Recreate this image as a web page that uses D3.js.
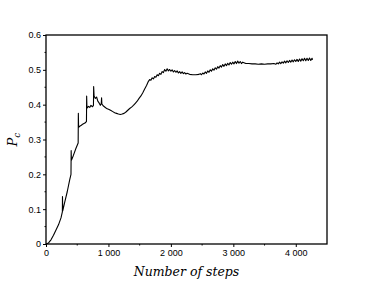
<!DOCTYPE html>
<html>
<head>
<meta charset="utf-8">
<script src="https://cdn.jsdelivr.net/npm/d3@7"></script>
<style>
  body { margin: 0; background: #fff; }
  svg { display: block; }
</style>
</head>
<body>
<svg id="chart"></svg>
<script>
// data
const steps = [0, 40, 80, 120, 160, 200, 240, 262, 264, 268, 300, 340, 380, 400, 403, 407, 440, 480, 515, 518, 522,
  540, 560, 580, 600, 630, 648, 651, 656, 680, 700, 720, 745, 760, 763, 770, 790, 810, 830, 850, 870, 885, 890, 895,
  920, 950, 980, 1010, 1040, 1070, 1100, 1130, 1160, 1190, 1220, 1250, 1280, 1310, 1340, 1370, 1400, 1430, 1460,
  1490, 1520, 1550, 1580, 1610,
  1640, 1660, 1680, 1700, 1720, 1740, 1760, 1780, 1800, 1820, 1840, 1860, 1880, 1900, 1920, 1940, 1960, 1980,
  2000, 2020, 2040, 2060, 2080, 2100, 2120, 2140, 2160, 2180, 2200, 2220, 2240, 2260, 2300, 2350, 2400, 2450,
  2470, 2490, 2510, 2530, 2550, 2570, 2590, 2610, 2630, 2650, 2670, 2690, 2710, 2730, 2750, 2770, 2790, 2810,
  2830, 2850, 2870, 2890, 2910, 2930, 2950, 2970, 2990, 3010, 3030, 3050, 3070, 3090, 3110, 3130, 3150, 3200,
  3250, 3300, 3350, 3400, 3450, 3500, 3550, 3600, 3650, 3680, 3700, 3720, 3740, 3760, 3780, 3800, 3820, 3840,
  3860, 3880, 3900, 3920, 3940, 3960, 3980, 4000, 4020, 4040, 4060, 4080, 4100, 4120, 4140, 4160, 4180, 4200,
  4220, 4240, 4260, 4270];
const pc = [0, 0.003, 0.012, 0.025, 0.04, 0.055, 0.075, 0.092, 0.136, 0.095, 0.12, 0.15, 0.185, 0.2, 0.268, 0.24,
  0.255, 0.275, 0.29, 0.375, 0.335, 0.338, 0.34, 0.343, 0.345, 0.348, 0.352, 0.425, 0.39, 0.395, 0.392, 0.398, 0.394,
  0.398, 0.452, 0.425, 0.418, 0.422, 0.41, 0.405, 0.398, 0.403, 0.42, 0.402, 0.396, 0.392, 0.388, 0.386, 0.383,
  0.38, 0.377, 0.375, 0.373, 0.372, 0.373, 0.375, 0.379, 0.384, 0.389, 0.393, 0.398, 0.404, 0.41, 0.418, 0.425,
  0.434, 0.445, 0.455,
  0.467, 0.472, 0.47, 0.477, 0.474, 0.481, 0.479, 0.486, 0.483, 0.49, 0.487, 0.495, 0.492, 0.501, 0.496, 0.503,
  0.497, 0.501, 0.496, 0.5, 0.494, 0.498, 0.493, 0.497, 0.491, 0.495, 0.49, 0.494, 0.489, 0.492, 0.488, 0.49,
  0.487, 0.486, 0.486, 0.487, 0.489, 0.486, 0.491, 0.488, 0.494, 0.49, 0.497, 0.493, 0.5, 0.496, 0.503, 0.499,
  0.506, 0.502, 0.509, 0.505, 0.512, 0.508, 0.515, 0.51, 0.517, 0.512, 0.519, 0.514, 0.521, 0.516, 0.522, 0.517,
  0.524, 0.518, 0.525, 0.519, 0.524, 0.518, 0.522, 0.518, 0.518, 0.517, 0.517, 0.516, 0.517, 0.516, 0.517, 0.517,
  0.518, 0.516, 0.52, 0.517, 0.522, 0.518, 0.523, 0.519, 0.525, 0.52, 0.526, 0.521, 0.527, 0.522, 0.528, 0.523,
  0.529, 0.524, 0.53, 0.524, 0.531, 0.525, 0.532, 0.526, 0.533, 0.526, 0.533, 0.527, 0.534, 0.527, 0.533, 0.529];
const xTicks = [0, 1000, 2000, 3000, 4000];
const xTickLabels = ["0", "1 000", "2 000", "3 000", "4 000"];
const yTicks = [0, 0.1, 0.2, 0.3, 0.4, 0.5, 0.6];
const yTickLabels = ["0", "0.1", "0.2", "0.3", "0.4", "0.5", "0.6"];

const width = 374, height = 282;
const margin = { top: 35, right: 47, bottom: 38, left: 46 };

const svg = d3.select("#chart").attr("width", width).attr("height", height);

const x = d3.scaleLinear().domain([0, 4500]).range([margin.left, width - margin.right]);
const y = d3.scaleLinear().domain([0, 0.6]).range([height - margin.bottom, margin.top]);

// frame
svg.append("rect")
  .attr("x", x(0)).attr("y", y(0.6))
  .attr("width", x(4500) - x(0)).attr("height", y(0) - y(0.6))
  .attr("fill", "none").attr("stroke", "#000").attr("stroke-width", 1.3);

// minor ticks
const xMinor = [500, 1500, 2500, 3500];
const yMinor = [0.05, 0.15, 0.25, 0.35, 0.45, 0.55];
svg.append("g").selectAll("line").data(xMinor).enter().append("line")
  .attr("x1", (d) => x(d)).attr("x2", (d) => x(d))
  .attr("y1", y(0)).attr("y2", y(0) + 1.5)
  .attr("stroke", "#000").attr("stroke-width", 1);
svg.append("g").selectAll("line").data(yMinor).enter().append("line")
  .attr("x1", x(0) - 1.5).attr("x2", x(0))
  .attr("y1", (d) => y(d)).attr("y2", (d) => y(d))
  .attr("stroke", "#000").attr("stroke-width", 1);

// axes
const xAxis = svg.append("g")
  .attr("transform", `translate(0,${y(0)})`)
  .call(d3.axisBottom(x).tickValues(xTicks).tickFormat((d, i) => xTickLabels[i]).tickSize(3).tickPadding(3));
const yAxis = svg.append("g")
  .attr("transform", `translate(${x(0)},0)`)
  .call(d3.axisLeft(y).tickValues(yTicks).tickFormat((d, i) => yTickLabels[i]).tickSize(3).tickPadding(2));

[xAxis, yAxis].forEach((g) => {
  g.select(".domain").remove();
  g.selectAll("line").attr("stroke", "#000").attr("stroke-width", 1);
  g.selectAll("text")
    .attr("fill", "#000")
    .style("font-family", "'Liberation Sans', Arial, sans-serif")
    .style("font-size", "9px");
});

// curve
const line = d3.line().x((d) => x(d[0])).y((d) => y(d[1]));
svg.append("path")
  .datum(steps.map((s, i) => [s, pc[i]]))
  .attr("d", line)
  .attr("fill", "none")
  .attr("stroke", "#000")
  .attr("stroke-width", 1.1)
  .attr("stroke-linejoin", "round");

// axis titles
svg.append("text")
  .attr("x", (x(0) + x(4500)) / 2)
  .attr("y", 276)
  .attr("text-anchor", "middle")
  .style("font-family", "'DejaVu Serif', serif")
  .style("font-style", "italic")
  .style("font-size", "12.5px")
  .text("Number of steps");

const yl = svg.append("text")
  .attr("transform", `translate(17,${(y(0) + y(0.6)) / 2}) rotate(-90)`)
  .attr("text-anchor", "middle")
  .style("font-family", "'DejaVu Serif', serif")
  .style("font-style", "italic")
  .style("font-size", "13px");
yl.append("tspan").text("P");
yl.append("tspan").attr("dy", 3).style("font-size", "9px").text("c");
</script>
</body>
</html>
